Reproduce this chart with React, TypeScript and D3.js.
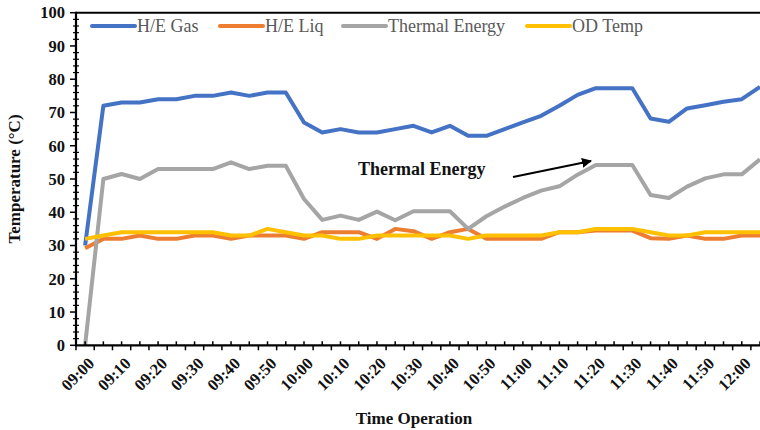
import React from "react";
import * as d3 from "d3";

const times = [
  "09:00","09:05","09:10","09:15","09:20","09:25","09:30","09:35","09:40","09:45",
  "09:50","09:55","10:00","10:05","10:10","10:15","10:20","10:25","10:30","10:35",
  "10:40","10:45","10:50","10:55","11:00","11:05","11:10","11:15","11:20","11:25",
  "11:30","11:35","11:40","11:45","11:50","11:55","12:00","12:05",
];
const heGas = [30,72,73,73,74,74,75,75,76,75,76,76,67,64,65,64,64,65,66,64,66,63,63,65,67,69,72,75.3,77.3,77.3,77.3,68.2,67.2,71.2,72.2,73.2,74,77.7];
const heLiq = [29.2,32,32,33,32,32,33,33,32,33,33,33,32,34,34,34,32,35,34.3,32,34,35,32,32,32,32,34,34,34.5,34.5,34.5,32.2,32,33,32,32,33,33];
const thermal = [0,50,51.5,50,53,53,53,53,55,53,54,54,44,37.7,39,37.7,40.2,37.6,40.3,40.3,40.3,35,38.8,41.7,44.3,46.5,47.8,51.3,54.2,54.2,54.2,45.2,44.3,47.7,50.2,51.4,51.4,55.9];
const odTemp = [32,33,34,34,34,34,34,34,33,33,35,34,33,33,32,32,33,33,33,33,33,32,33,33,33,33,34,34,35,35,35,34,33,33,34,34,34,34];
const seriesNames = ["H/E Gas","H/E Liq","Thermal Energy","OD Temp"];
const seriesColors = ["#4472C4","#ED7D31","#A5A5A5","#FFC000"];
const yTicks = [0,10,20,30,40,50,60,70,80,90,100];

const W = 760, H = 430;
const left = 76, top = 12.7, bottom = 345.3;
const bandW = 18.24;
const right = left + bandW * times.length;

export default function App() {
  const x = d3.scaleBand<string>().domain(times).range([left, right]).paddingInner(0).paddingOuter(0);
  const cx = (t: string) => (x(t) as number) + x.bandwidth() / 2;
  const y = d3.scaleLinear().domain([0, 100]).range([bottom, top]);
  const all = [heGas, heLiq, thermal, odTemp];
  const line = d3.line<number>().x((_, i) => cx(times[i])).y((v) => y(v));
  const minor = d3.range(0, 101, 2).filter((v) => v % 10 !== 0);
  const legendX = [92, 220, 343, 527];
  const serif = "'Liberation Serif', 'Times New Roman', serif";
  return (
    <svg width={W} height={H} style={{ position: "absolute", left: 0, top: 0, background: "#fff" }} fontFamily={serif}>
      <rect x={0} y={0} width={W} height={H} fill="#fff" />
      <line x1={left} x2={W} y1={top} y2={top} stroke="#000" strokeWidth={2} />
      {all.map((s, k) => (
        <path key={k} d={line(s) as string} fill="none" stroke={seriesColors[k]} strokeWidth={4} strokeLinejoin="round" />
      ))}
      <line x1={left} x2={left} y1={top - 1} y2={bottom + 1} stroke="#000" strokeWidth={2.2} />
      {minor.map((v) => (
        <line key={"m" + v} x1={left - 3} x2={left + 3} y1={y(v)} y2={y(v)} stroke="#000" strokeWidth={1.2} />
      ))}
      {yTicks.map((v) => (
        <g key={v}>
          <line x1={left - 6} x2={left} y1={y(v)} y2={y(v)} stroke="#000" strokeWidth={1.5} />
          <text x={left - 11} y={y(v)} dy="0.35em" textAnchor="end" fontSize={16.5} fontWeight="bold" fill="#111">{v}</text>
        </g>
      ))}
      <line x1={left - 1} x2={right} y1={bottom} y2={bottom} stroke="#000" strokeWidth={2.2} />
      {times.map((t, i) => (
        <g key={t}>
          <line x1={x(t) as number} x2={x(t) as number} y1={bottom} y2={bottom + 5} stroke="#000" strokeWidth={1.5} />
          <line x1={cx(t)} x2={cx(t)} y1={bottom} y2={bottom - 4} stroke="#000" strokeWidth={1.5} />
          {i % 2 === 0 && (
            <text transform={`translate(${cx(t) + 2},${bottom + 11}) rotate(-45)`} textAnchor="end" dy="0.7em" fontSize={16.5} fontWeight="bold" fill="#111">{t}</text>
          )}
        </g>
      ))}
      {seriesNames.map((n, k) => (
        <g key={n}>
          <line x1={legendX[k]} x2={legendX[k] + 43} y1={26} y2={26} stroke={seriesColors[k]} strokeWidth={4} strokeLinecap="round" />
          <text x={legendX[k] + 45} y={26} dy="0.35em" fontSize={18} fill="#595959">{n}</text>
        </g>
      ))}
      <text x={358} y={175} fontSize={18} fontWeight="bold" fill="#111">Thermal Energy</text>
      <defs>
        <marker id="arr" viewBox="0 0 10 10" refX="9" refY="5" markerWidth="5" markerHeight="5" orient="auto">
          <path d="M0,0 L10,5 L0,10 Z" fill="#000" />
        </marker>
      </defs>
      <line x1={513} y1={177} x2={591} y2={161} stroke="#000" strokeWidth={2} markerEnd="url(#arr)" />
      <text transform={`translate(20,${(top + bottom) / 2}) rotate(-90)`} textAnchor="middle" fontSize={17} fontWeight="bold" fill="#111">Temperature (°C)</text>
      <text x={414} y={424} textAnchor="middle" fontSize={17} fontWeight="bold" fill="#111">Time Operation</text>
    </svg>
  );
}
